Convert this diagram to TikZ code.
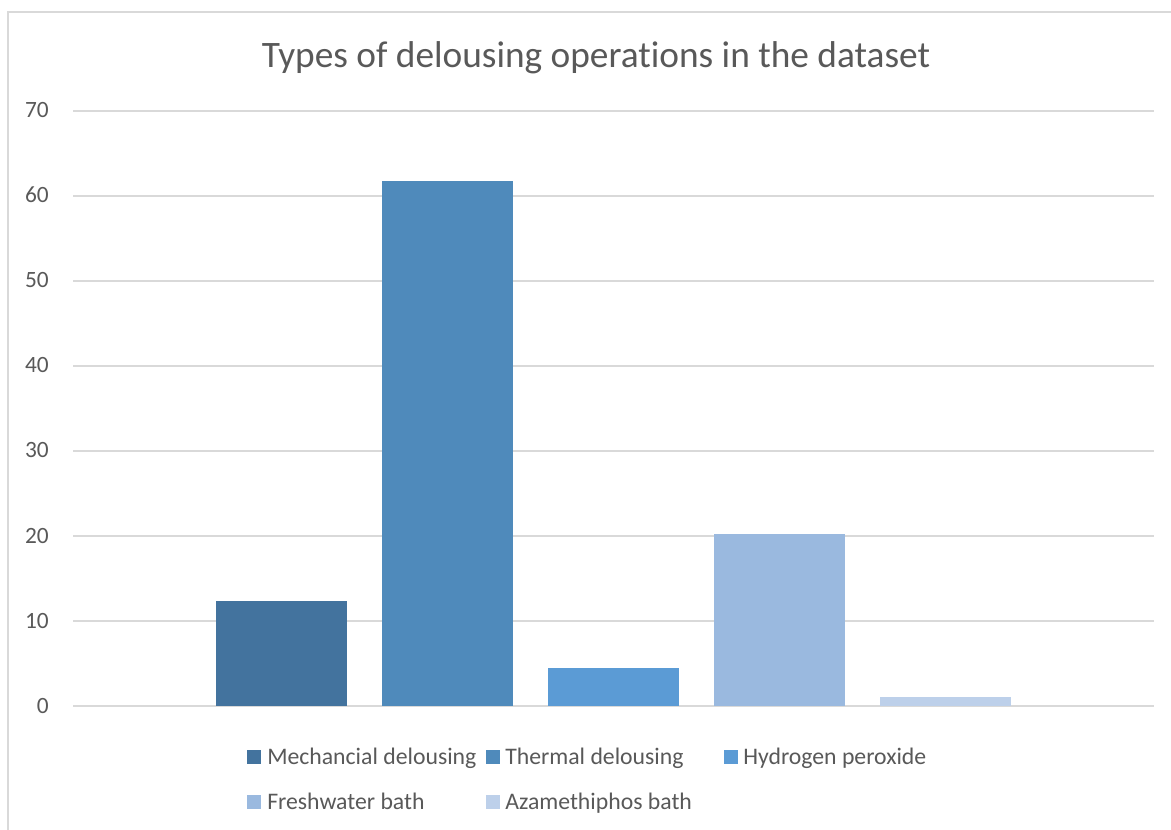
\documentclass[tikz,border=0pt]{standalone}
\usepackage{fontspec}
\setmainfont{Carlito}[Ligatures=NoCommon]
\usetikzlibrary{positioning}
\definecolor{txtgray}{HTML}{595959}
\definecolor{gridgray}{HTML}{D9D9D9}
\definecolor{mechblue}{HTML}{43739E}
\definecolor{thermblue}{HTML}{4F8ABB}
\definecolor{hydroblue}{HTML}{5B9BD5}
\definecolor{freshblue}{HTML}{9AB9DF}
\definecolor{azablue}{HTML}{BDD0EA}
\tikzset{
  frame/.style={draw=gridgray, line width=1.6pt},
  gridline/.style={draw=gridgray, line width=1.6pt},
  ticklabel/.style={anchor=base east, inner sep=0pt, text=txtgray,
    font=\fontsize{17.5}{20}\selectfont},
  legkey/.style={anchor=south west, minimum width=10.5pt, minimum height=10pt, inner sep=0pt},
  legtext/.style={anchor=base west, inner sep=0pt, text=txtgray,
    font=\fontsize{17.8}{21}\selectfont},
  charttitle/.style={anchor=base, inner sep=0pt, text=txtgray,
    font=\fontsize{28}{33}\selectfont}
}
\begin{document}
\begin{tikzpicture}[x=0.75pt,y=-0.75pt]
  \useasboundingbox (0,0) rectangle (1171,830);
  \fill[white] (0,0) rectangle (1171,830);
  \draw[frame] (8,830) -- (8,12) -- (1171,12);

  \node[charttitle] (title) at (596,68) {Types of delousing operations in the dataset};

  % gridlines and tick labels
  \foreach \k in {0,...,7}{
    \draw[gridline] (73,706-85*\k) -- (1154,706-85*\k);
    \node[ticklabel] (tick\k) at (49,713-85*\k) {\number\numexpr\k*10\relax};
  }

  % bars
  \foreach \x/\v/\c in {216/12.35/mechblue, 382/61.76/thermblue, 548/4.47/hydroblue,
                        714/20.24/freshblue, 880/1.06/azablue}{
    \fill[\c] (\x,706) rectangle (\x+131,706-8.5*\v);
  }

  % legend
  \node[legkey, fill=mechblue] (kmech) at (247,764) {};
  \node[legtext] (lmech) at (267,764) {Mechancial delousing};
  \node[legkey, fill=thermblue] (ktherm) at (486,764) {};
  \node[legtext] (ltherm) at (505,764) {Thermal delousing};
  \node[legkey, fill=hydroblue] (khydro) at (724,764) {};
  \node[legtext] (lhydro) at (743,764) {Hydrogen peroxide};
  \node[legkey, fill=freshblue] (kfresh) at (247,809) {};
  \node[legtext] (lfresh) at (267,809) {Freshwater bath};
  \node[legkey, fill=azablue] (kaza) at (486,809) {};
  \node[legtext] (laza) at (505,809) {Azamethiphos bath};
\end{tikzpicture}
\end{document}
